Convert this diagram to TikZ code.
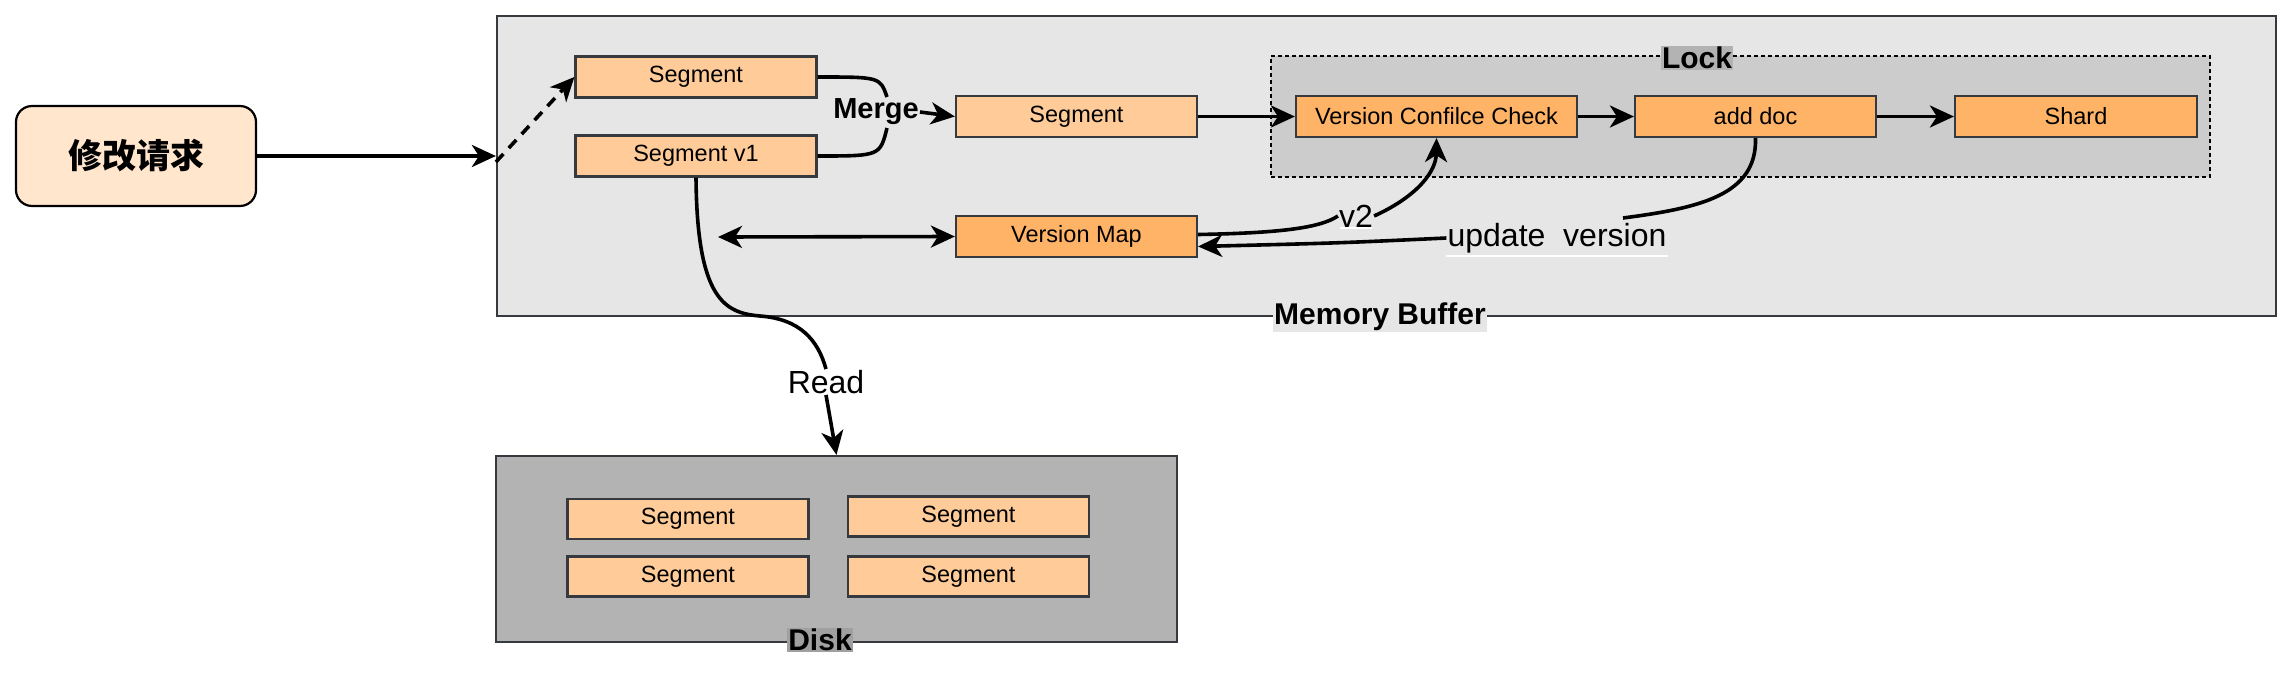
\documentclass[tikz,border=0pt]{standalone}
\usepackage{fontspec}
\setmainfont{Liberation Sans}
\newfontfamily\cjk{Noto Sans CJK SC}
\usetikzlibrary{arrows.meta,calc}
\definecolor{memfill}{HTML}{E6E6E6}
\definecolor{lockfill}{HTML}{CCCCCC}
\definecolor{locklab}{HTML}{B3B3B3}
\definecolor{diskfill}{HTML}{B3B3B3}
\definecolor{disklab}{HTML}{A0A0A0}
\definecolor{segl}{HTML}{FFCC99}
\definecolor{sego}{HTML}{FFB366}
\definecolor{reqfill}{HTML}{FFE6CC}
\definecolor{edgec}{HTML}{36393D}
\tikzset{
  box/.style={draw=edgec, line width=2.2pt, inner sep=0pt, minimum height=41pt, font=\fontsize{23.5}{27}\selectfont},
  seglt/.style={box, fill=segl, minimum width=241pt},
  segor/.style={box, fill=sego, minimum width=241pt},
  tip/.tip={Stealth[length=24pt,width=22pt,inset=7pt]},
  conn/.style={line width=3.6pt, -tip},
  plain/.style={line width=3.6pt},
  grplab/.style={font=\bfseries\fontsize{30}{32}\selectfont, inner sep=1pt},
  elab/.style={font=\fontsize{32}{34}\selectfont, inner sep=1pt},
}
\begin{document}
\begin{tikzpicture}[x=1pt,y=-1pt]
\useasboundingbox (0,0) rectangle (2294,688);
% containers
\node[draw=edgec, line width=2.2pt, fill=memfill, minimum width=1779pt, minimum height=300pt, inner sep=0pt] (mem) at (1386.5,166) {};
\node[draw=black, line width=2.2pt, dash pattern=on 4pt off 3pt, fill=lockfill, minimum width=939pt, minimum height=121pt, inner sep=0pt] (lock) at (1740.5,116.5) {};
\node[draw=edgec, line width=2.2pt, fill=diskfill, minimum width=681pt, minimum height=186pt, inner sep=0pt] (disk) at (836.5,549) {};
% group labels
\node[grplab, fill=memfill] (memlab) at (1380,317) {Memory Buffer};
\node[grplab, fill=locklab] (locklab) at (1697,58) {Lock};
\node[grplab, fill=disklab] (disklab) at (820,640) {Disk};
% request
\node[draw=black, line width=2.2pt, fill=reqfill, rounded corners=16pt, minimum width=240pt, minimum height=100pt, font=\cjk\bfseries\fontsize{34}{36}\selectfont] (req) at (136,156) {修改请求};
% memory buffer nodes
\node[seglt] (seg1) at (696,77) {Segment};
\node[seglt] (segv1) at (696,156) {Segment v1};
\node[seglt] (seg2) at (1076.5,116.5) {Segment};
\node[segor, minimum width=281pt] (vcc) at (1436.5,116.5) {Version Confilce Check};
\node[segor] (adddoc) at (1755.5,116.5) {add doc};
\node[segor, minimum width=242pt] (shard) at (2076,116.5) {Shard};
\node[segor] (vmap) at (1076.5,236.5) {Version Map};
% disk nodes
\node[seglt, minimum height=40pt] (dA) at (688,519) {Segment};
\node[seglt, minimum height=40pt] (dB) at (968.5,516.5) {Segment};
\node[seglt, minimum height=40pt] (dC) at (688,576.5) {Segment};
\node[seglt, minimum height=40pt] (dD) at (968.5,576.5) {Segment};
% edge labels
\node[font=\bfseries\fontsize{29}{31}\selectfont, inner sep=1pt] (merge) at (876,112) {Merge};
\node[elab] (read) at (826,382) {Read};
\node[elab] (v2) at (1356,216) {v2};
\node[elab] (upd) at (1557,238) {update~~version};
% coordinates
\coordinate (entry) at ($(req.east -| mem.west)+(0,6)$);
\coordinate (mtop) at (887,97);
\coordinate (mbot) at (887,128);
\coordinate (dleft) at (718,237);
\coordinate (vmapUp) at ($(vmap.east)+(0,-2)$);
\coordinate (vmapDn) at ($(vmap.east)+(0,10)$);
\coordinate (updIn) at (1623,218);
% edges
\draw[conn] (req.east) -- (req.east -| mem.west);
\draw[conn, dash pattern=on 11pt off 8pt] (entry) -- (seg1.west);
\draw[plain] (seg1.east) .. controls (880,77) .. (mtop);
\draw[plain] (segv1.east) .. controls (880,156) .. (mbot);
\draw[conn] (merge.east) -- (seg2.west);
\draw[conn] (seg2.east) -- (vcc.west);
\draw[conn] (vcc.east) -- (adddoc.west);
\draw[conn] (adddoc.east) -- (shard.west);
\draw[line width=3.6pt, tip-tip] (dleft) -- (vmap.west);
\draw[plain] (vmapUp) .. controls (1280,233) and (1320,228) .. (v2.west);
\draw[conn] (v2.east) .. controls (1420,195) and (1436,170) .. (vcc.south);
\draw[plain] (adddoc.south) .. controls (1757,195) and (1700,208) .. (updIn);
\draw[conn] (upd.west) .. controls (1340,243) .. (vmapDn);
\draw[plain] (segv1.south) .. controls (697,300) and (725,313) .. (760,316) .. controls (800,319) and (818,340) .. (read.north);
\draw[conn] (read.south) -- (disk.north);
% label underlines (white)
\draw[white, line width=2pt] ($(v2.south west)+(2,0)$) -- ($(v2.south east)+(-2,0)$);
\draw[white, line width=2pt] ($(upd.south west)+(0,2)$) -- ($(upd.south east)+(0,2)$);
\end{tikzpicture}
\end{document}
